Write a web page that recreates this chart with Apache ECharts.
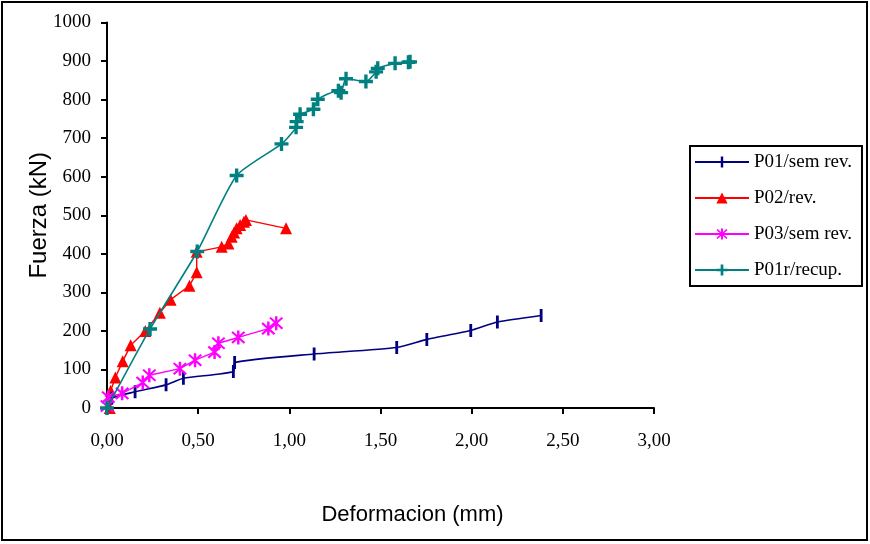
<!DOCTYPE html>
<html>
<head>
<meta charset="utf-8">
<script src="https://cdn.jsdelivr.net/npm/echarts@6/dist/echarts.min.js"></script>
<style>
  html, body { margin: 0; padding: 0; background: #fff; }
  #chart { width: 870px; height: 544px; }
</style>
</head>
<body>
<div id="chart"></div>
<script>
// valores: [deformacion (mm), fuerza (kN)]
const p01 = [[0, 0], [0.026, 25], [0.154, 42], [0.324, 60], [0.419, 77], [0.693, 95], [0.7, 118],
  [1.136, 140], [1.589, 157], [1.754, 178], [1.995, 201], [2.141, 223], [2.381, 240]]
const p02 = [[0.015, 0], [0.02, 45], [0.046, 79], [0.086, 121], [0.13, 163], [0.21, 200], [0.29, 247],
  [0.349, 281], [0.452, 317], [0.492, 352], [0.492, 405], [0.629, 418], [0.666, 427], [0.684, 444],
  [0.697, 455], [0.711, 466], [0.73, 475], [0.751, 483], [0.762, 488], [0.982, 466]]
const p03 = [[0, 5], [0.007, 28], [0.083, 38], [0.196, 66], [0.232, 85], [0.4, 102], [0.483, 124],
  [0.59, 145], [0.611, 168], [0.72, 183], [0.885, 206], [0.928, 220]]
const p01r = [[0, 0], [0.236, 205], [0.495, 406], [0.711, 603], [0.957, 685], [1.037, 728], [1.04, 743],
  [1.059, 762], [1.132, 775], [1.156, 801], [1.269, 823], [1.284, 818], [1.311, 854], [1.42, 847],
  [1.476, 872], [1.485, 881], [1.58, 894], [1.653, 897], [1.662, 898]]
const seriesNames = ['P01/sem rev.', 'P02/rev.', 'P03/sem rev.', 'P01r/recup.']

// simbolos tipo Excel (la linea horizontal sin area solo fija el cuadro del simbolo)
const dashPath = 'path://M0,6L12,6ZM4.7,0h2.6v12h-2.6z'
const plusPath = 'path://M3.8,0h2.4v10h-2.4zM0,3.8h10v2.4h-10z'
const starPath = 'path://M4.2,0h1.6v10h-1.6zM0.5,1.5L1.5,0.5L9.5,8.5L8.5,9.5zM8.5,0.5L9.5,1.5L1.5,9.5L0.5,8.5z'
const serif = '"Liberation Serif", "Times New Roman", serif'
const sans = '"Liberation Sans", Arial, sans-serif'

const chart = echarts.init(document.getElementById('chart'))
chart.setOption({
  animation: false,
  backgroundColor: '#fff',
  graphic: [{
    type: 'rect',
    shape: { x: 2, y: 2, width: 865, height: 538 },
    style: { fill: 'none', stroke: '#000', lineWidth: 2 },
    z: 100
  }],
  grid: { left: 107, top: 22.5, right: 216, bottom: 136 },
  legend: {
    orient: 'vertical',
    left: 690,
    top: 146,
    padding: [6, 10, 6, 4],
    itemWidth: 54,
    itemHeight: 14,
    itemGap: 16,
    borderColor: '#000',
    borderWidth: 2,
    backgroundColor: '#fff',
    textStyle: { fontFamily: serif, fontSize: 19, lineHeight: 20, color: '#000' },
    data: seriesNames
  },
  xAxis: {
    type: 'value',
    min: 0,
    max: 3,
    interval: 0.5,
    name: 'Deformacion (mm)',
    nameLocation: 'middle',
    nameGap: 96,
    nameMoveOverlap: false,
    nameTextStyle: { fontFamily: sans, fontSize: 22, color: '#000', padding: [0, 0, 0, 64] },
    axisLine: { onZero: false, lineStyle: { color: '#000', width: 2 } },
    axisTick: { show: true, length: 6, lineStyle: { color: '#000', width: 2 } },
    axisLabel: {
      margin: 24,
      fontFamily: serif,
      fontSize: 19,
      color: '#000',
      formatter: v => v.toFixed(2).replace('.', ',')
    },
    splitLine: { show: false }
  },
  yAxis: {
    type: 'value',
    min: 0,
    max: 1000,
    interval: 100,
    name: 'Fuerza (kN)',
    nameLocation: 'middle',
    nameGap: 56,
    nameRotate: 90,
    nameMoveOverlap: false,
    nameTextStyle: { fontFamily: sans, fontSize: 24, color: '#000' },
    axisLine: { show: true, lineStyle: { color: '#000', width: 2 } },
    axisTick: { show: true, length: 6, lineStyle: { color: '#000', width: 2 } },
    axisLabel: { margin: 16, fontFamily: serif, fontSize: 19, color: '#000', formatter: v => String(v) },
    splitLine: { show: false }
  },
  series: [
    {
      name: seriesNames[0],
      type: 'line',
      data: p01,
      smooth: 0.2,
      symbol: dashPath,
      symbolSize: 13,
      lineStyle: { color: '#000080', width: 1.6 },
      itemStyle: { color: '#000080', borderWidth: 0 },
      z: 4
    },
    {
      name: seriesNames[1],
      type: 'line',
      data: p02,
      symbol: 'triangle',
      symbolSize: 12,
      lineStyle: { color: '#ff0000', width: 1.4 },
      itemStyle: { color: '#ff0000', borderWidth: 0 },
      z: 3
    },
    {
      name: seriesNames[2],
      type: 'line',
      data: p03,
      symbol: starPath,
      symbolSize: 14,
      lineStyle: { color: '#ff00ff', width: 1.4 },
      itemStyle: { color: '#ff00ff', borderWidth: 0 },
      z: 5
    },
    {
      name: seriesNames[3],
      type: 'line',
      data: p01r,
      smooth: 0.2,
      symbol: plusPath,
      symbolSize: 14,
      lineStyle: { color: '#008080', width: 1.6 },
      itemStyle: { color: '#008080', borderWidth: 0 },
      z: 6
    }
  ]
})
</script>
</body>
</html>
